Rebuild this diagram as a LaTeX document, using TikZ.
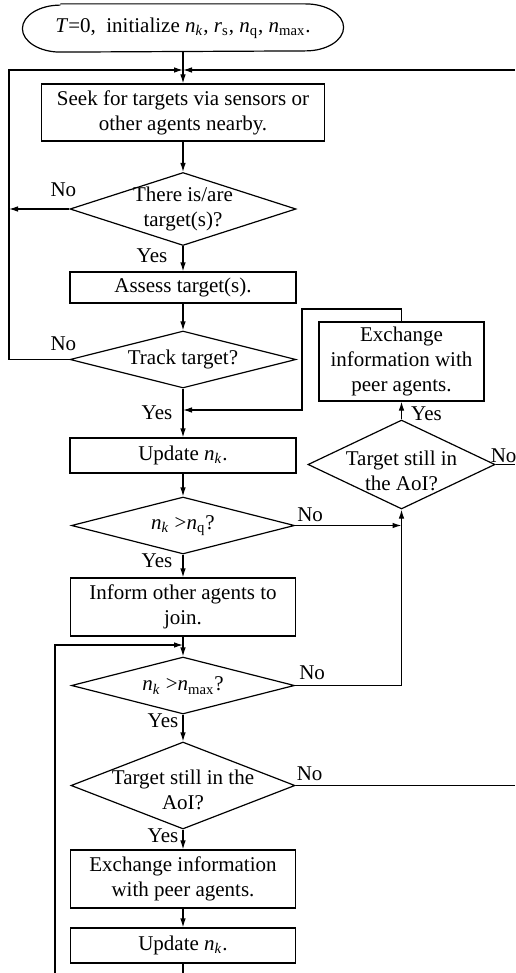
\documentclass[tikz,border=0pt]{standalone}
\usepackage{fontspec}
\setmainfont{Liberation Serif}
\usetikzlibrary{calc,arrows.meta,shapes.geometric}

\newcommand{\nsub}[1]{\textit{n}\textsubscript{#1}}

\begin{document}
\begin{tikzpicture}[
    x=0.5pt, y=-0.5pt,
    line width=0.6pt,
    font=\fontsize{10.5}{12.5}\selectfont,
    >={Latex[length=4.5pt,width=2.8pt]},
    proc/.style={draw, rectangle, align=center, inner sep=1pt},
    decide/.style={draw, diamond, inner sep=0pt},
    lbl/.style={inner sep=0pt}
 ]
\useasboundingbox (0,0) rectangle (515,973);

% main column
\node[rectangle, minimum width=160pt, minimum height=23.5pt] (start) at (183,28) {\textit{T}=0,\ \ initialize \nsub{\textit{k}}, \textit{r}\textsubscript{s}, \nsub{q}, \nsub{max}.};
\draw ([xshift=19pt]start.north west) -- ([xshift=-19pt]start.north east)
    arc[start angle=90, end angle=-90, x radius=19pt, y radius=11.75pt]
    -- ([xshift=19pt]start.south west)
    arc[start angle=270, end angle=90, x radius=19pt, y radius=11.75pt];
\node[proc, minimum width=141.5pt, minimum height=28.5pt] (seek) at (183,112.5) {Seek for targets via sensors or\\other agents nearby.};
\node[decide, minimum width=113pt, minimum height=36.5pt, label={[align=center]center:There is/are\\target(s)?}] (there) at (183,209) {};
\node[proc, minimum width=113pt, minimum height=15.5pt] (assess) at (183,287.5) {Assess target(s).};
\node[decide, minimum width=113pt, minimum height=28.5pt, label=center:Track target?] (track) at (183,359.5) {};
\node[proc, minimum width=113pt, minimum height=17.5pt] (upA) at (183,455.5) {Update \nsub{\textit{k}}.};
\node[decide, minimum width=111.5pt, minimum height=28.5pt, label=center:{\nsub{\textit{k}} \textgreater\nsub{q}?}] (cmpq) at (183,525.5) {};
\node[proc, minimum width=112.5pt, minimum height=29pt] (inform) at (183,607) {Inform other agents to\\join.};
\node[decide, minimum width=111.5pt, minimum height=28.5pt, label=center:{\nsub{\textit{k}} \textgreater\nsub{max}?}] (cmpmax) at (183,685.5) {};
\node[decide, minimum width=112pt, minimum height=43.5pt, label={[align=center, yshift=-2pt]center:Target still in the\\AoI?}] (stillA) at (183,785.5) {};
\node[proc, minimum width=112.5pt, minimum height=29pt] (exA) at (183,879) {Exchange information\\with peer agents.};
\node[proc, minimum width=112.5pt, minimum height=17.5pt] (upB) at (183,945.5) {Update \nsub{\textit{k}}.};

% right column
\node[proc, minimum width=82.5pt, minimum height=39.5pt] (exB) at (401.5,361.5) {Exchange\\information with\\peer agents.};
\node[decide, minimum width=93.5pt, minimum height=44.5pt, label={[align=center, yshift=-3pt]center:Target still in\\the AoI?}] (stillB) at (401.5,464.5) {};

% rails
\coordinate (join) at (183,70);
\coordinate (railL) at (9,70);
\coordinate (railR) at (515,70);
\coordinate (loopR) at (302,309);
\coordinate (backIn) at (183,410);
\coordinate (joinB) at (183,645);
\coordinate (railB) at (55,973);

\draw[->] (start) -- (seek);
\draw[->] (railR) -- (join);
\draw[->] (track.west) -| (railL) -- (join);
\draw[->] (seek) -- (there);
\draw[->] (there.west) -- (there.west -| railL);
\draw[->] (there) -- (assess);
\draw[->] (assess) -- (track);
\draw[->] (track) -- (upA);
\draw[->] (exB.north) |- (loopR) |- (backIn);
\draw[->] (stillB.north) -- (exB.south);
\draw (stillB.east) -- (stillB.east -| railR);
\draw[->] (upA) -- (cmpq);
\draw[->] (cmpq.east) -- (cmpq.east -| stillB.south);
\draw[->] (cmpq) -- (inform);
\draw[->] (inform) -- (cmpmax);
\draw[->] (railB) |- (joinB);
\draw[->] (cmpmax.east) -| (stillB.south);
\draw[->] (cmpmax) -- (stillA);
\draw (stillA.east) -- (stillA.east -| railR);
\draw[->] (stillA) -- (exA);
\draw[->] (exA) -- (upB);
\draw (upB.south) -- (upB.south |- railB);

% yes / no
\node[lbl] (noA) at ($(there.west)+(-6,-19)$) {No};
\node[lbl] (yesA) at ($(there.south)+(-31,10)$) {Yes};
\node[lbl] (noB) at ($(track.west)+(-6,-16)$) {No};
\node[lbl] (yesB) at ($(track.south)+(-26,24)$) {Yes};
\node[lbl] (yesC) at ($(stillB.north)+(25,-6)$) {Yes};
\node[lbl] (noC) at ($(stillB.east)+(8,-9)$) {No};
\node[lbl] (noD) at ($(cmpq.east)+(15,-11)$) {No};
\node[lbl] (yesD) at ($(cmpq.south)+(-26,6)$) {Yes};
\node[lbl] (noE) at ($(cmpmax.east)+(17,-13)$) {No};
\node[lbl] (yesE) at ($(cmpmax.south)+(-20,6)$) {Yes};
\node[lbl] (noF) at ($(stillA.east)+(14,-12)$) {No};
\node[lbl] (yesF) at ($(stillA.south)+(-20,6)$) {Yes};
\end{tikzpicture}
\end{document}
